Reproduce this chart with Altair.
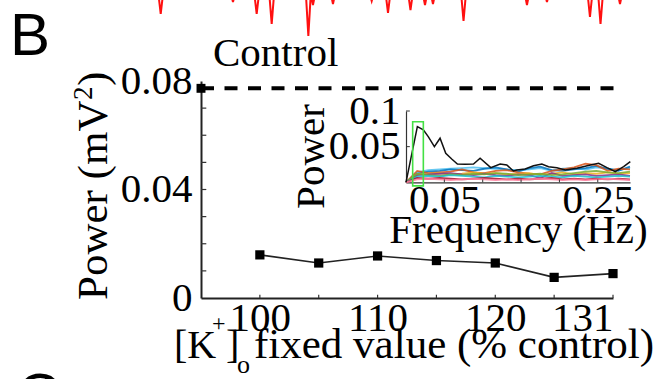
import json
import altair as alt
import pandas as pd

# ---------------- data ----------------
# main panel: power of the slow oscillation vs fixed [K+]o level
K_LEVELS = [100, 105, 110, 115, 120, 125, 131]
POWER = [0.0159, 0.0129, 0.0155, 0.0138, 0.0129, 0.0076, 0.0090]
CONTROL_POWER = 0.0773

# inset: power spectra (control in black, fixed-[K+]o runs in colour)
CTRL_FREQ = [0.0, 0.0148, 0.0226, 0.029, 0.037, 0.0444, 0.0518, 0.0596, 0.067, 0.077,
             0.088, 0.0966, 0.1105, 0.1227, 0.1314, 0.140, 0.1445, 0.1553, 0.1662,
             0.1771, 0.1858, 0.1967, 0.2076, 0.2228, 0.2402, 0.2511, 0.262, 0.2728,
             0.2837, 0.2924]
CTRL_SPEC = [0.0, 0.078, 0.0735, 0.064, 0.050, 0.0618, 0.0407, 0.0327, 0.0257, 0.0253,
             0.0257, 0.0337, 0.0205, 0.0257, 0.0243, 0.0159, 0.0173, 0.0187, 0.0233,
             0.0257, 0.0219, 0.0205, 0.0173, 0.0197, 0.0243, 0.0267, 0.0205, 0.0149,
             0.0219, 0.0289]

RUN_FREQ = [0.0, 0.0146, 0.029, 0.044, 0.058, 0.073, 0.088, 0.102, 0.117, 0.131, 0.146,
            0.161, 0.175, 0.19, 0.204, 0.219, 0.234, 0.248, 0.263, 0.277, 0.292]
RUN_SPECS = {
    "100": [0, 0.014, 0.017, 0.018, 0.019, 0.020, 0.021, 0.020, 0.019, 0.018, 0.017,
            0.018, 0.020, 0.016, 0.019, 0.020, 0.018, 0.021, 0.019, 0.017, 0.020],
    "105": [0, 0.012, 0.015, 0.016, 0.018, 0.017, 0.016, 0.019, 0.021, 0.018, 0.015,
            0.020, 0.022, 0.017, 0.016, 0.018, 0.020, 0.023, 0.019, 0.016, 0.022],
    "110": [0, 0.016, 0.013, 0.014, 0.015, 0.018, 0.014, 0.013, 0.016, 0.017, 0.014,
            0.012, 0.011, 0.016, 0.018, 0.021, 0.026, 0.024, 0.016, 0.019, 0.018],
    "115": [0, 0.011, 0.012, 0.013, 0.011, 0.012, 0.014, 0.012, 0.013, 0.011, 0.012,
            0.013, 0.010, 0.012, 0.014, 0.011, 0.013, 0.012, 0.014, 0.012, 0.013],
    "120": [0, 0.010, 0.011, 0.012, 0.013, 0.011, 0.010, 0.012, 0.010, 0.009, 0.011,
            0.010, 0.006, 0.013, 0.009, 0.010, 0.011, 0.009, 0.010, 0.011, 0.009],
    "125": [0, 0.012, 0.010, 0.009, 0.011, 0.010, 0.012, 0.011, 0.013, 0.012, 0.010,
            0.011, 0.012, 0.010, 0.011, 0.013, 0.015, 0.016, 0.014, 0.013, 0.015],
    "128": [0, 0.008, 0.009, 0.008, 0.010, 0.009, 0.008, 0.007, 0.009, 0.008, 0.007,
            0.008, 0.009, 0.008, 0.007, 0.009, 0.008, 0.007, 0.008, 0.009, 0.008],
    "131": [0, 0.006, 0.005, 0.006, 0.005, 0.004, 0.005, 0.006, 0.005, 0.004, 0.005,
            0.004, 0.005, 0.006, 0.004, 0.005, 0.004, 0.005, 0.004, 0.005, 0.004],
    "133": [0, 0.004, 0.005, 0.004, 0.003, 0.004, 0.005, 0.004, 0.003, 0.004, 0.003,
            0.004, 0.005, 0.004, 0.003, 0.004, 0.003, 0.004, 0.005, 0.004, 0.003],
}
RUN_COLORS = ["#4DBEEE", "#0072BD", "#D95319", "#EDB120", "#7E2F8E",
              "#77AC30", "#17BECF", "#A2142F", "#FF7F9F"]
PEAK_BOX = {"freq": 0.0087, "freq2": 0.0226, "spec": -0.005, "spec2": 0.085}

# trace from the panel above (membrane potential, only the deepest dips show)
SPIKE_T = [4.16, 12.58, 15.34, 17.09, 21.36, 21.90, 24.23, 28.74, 30.64, 33.26,
           34.95, 35.88, 39.44, 46.83, 49.16, 54.17, 55.40, 57.67]
SPIKE_V = [-38.8, -24.4, -38.8, -50.8, -65.2, -28.0, -26.8, -23.2, -37.6, -34.0,
           -28.0, -26.8, -47.2, -28.0, -24.4, -42.4, -50.8, -26.8]
TRACE_BASE = -12.0

SERIF = "Liberation Serif"
FS = 41

# ---------------- layout ----------------
W, H = 412, 217
PAD = {"left": 201, "top": 81, "right": 53, "bottom": 81}

# ---------------- main panel ----------------
idx = list(range(len(K_LEVELS)))
main_df = pd.DataFrame({"i": idx, "power": POWER, "level": K_LEVELS})
ctrl_df = pd.DataFrame({"i": [-1], "power": [CONTROL_POWER]})
labels_js = json.dumps([str(k) for k in K_LEVELS])

x_main = alt.X(
    "i:Q",
    scale=alt.Scale(domain=[-1, len(K_LEVELS) - 1], nice=False, zero=False),
    axis=alt.Axis(values=[0, 2, 4, 6], labelExpr=f"{labels_js}[datum.value]",
                  title=None, labelBaseline="alphabetic", labelPadding=32, orient="bottom"),
)
y_main = alt.Y(
    "power:Q",
    scale=alt.Scale(domain=[0, 0.08], nice=False),
    axis=alt.Axis(values=[0, 0.04, 0.08],
                  labelExpr="datum.value == 0 ? '0' : format(datum.value, '.2f')",
                  title=None, labelPadding=9, orient="left"),
)

dashed = alt.Chart(ctrl_df).mark_rule(color="black", strokeWidth=4, strokeDash=[13, 10.5]).encode(
    x=x_main, x2=alt.datum(6.12), y=y_main)
line = alt.Chart(main_df).mark_line(color="#222222", strokeWidth=1.6).encode(x=x_main, y=y_main)
pts = alt.Chart(main_df).mark_point(shape="square", filled=True, size=85, color="black",
                                    opacity=1).encode(x=x_main, y=y_main)
ctrl_pt = alt.Chart(ctrl_df).mark_point(shape="square", filled=True, size=80, color="black",
                                        opacity=1).encode(x=x_main, y=y_main)
ctrl_lbl = alt.Chart(ctrl_df).mark_text(text="Control", font=SERIF, fontSize=FS, align="left",
                                        baseline="alphabetic", dx=12, dy=-22, color="black").encode(
    x=x_main, y=y_main)

# inward ticks
ytick_df = pd.DataFrame({"power": [0.01, 0.02, 0.03, 0.04, 0.05, 0.06, 0.07]})
yticks = alt.Chart(ytick_df).mark_rule(color="#333333", strokeWidth=1.2).encode(
    y=y_main, x=alt.datum(-1), x2=alt.datum(-0.91))
xtick_df = pd.DataFrame({"i": idx})
xticks = alt.Chart(xtick_df).mark_rule(color="#333333", strokeWidth=1.2).encode(
    x=x_main, y=alt.datum(0), y2=alt.datum(0.0012))


def txt(s, x, y, size=FS, angle=0, align="left", baseline="alphabetic", font=SERIF):
    return alt.Chart(pd.DataFrame({"s": [s]})).mark_text(
        font=font, fontSize=size, angle=angle, align=align, baseline=baseline,
        color="black").encode(x=alt.value(x), y=alt.value(y), text="s:N")


# axis titles built from pieces so super/subscripts sit right
XT = 43
xt = [txt("[K", -27, 277, size=40), txt("+", 11, 250, size=24), txt("]", 25, 277, size=40),
      txt("o", 36, 292, size=26), txt("fixed value (% control)", 53, 277, size=XT)]
yt = [txt("Power (mV", -94, 219, size=XT, angle=270), txt("2", -109, 19, size=27, angle=270),
      txt(")", -94, 5, size=XT, angle=270)]
letters = [txt("B", -191, -26, size=60, font="Liberation Sans"),
           txt("C", -184, 334, size=60, font="Liberation Sans")]

main = alt.layer(dashed, line, pts, ctrl_pt, ctrl_lbl, yticks, xticks, *xt, *yt, *letters)

# ---------------- inset ----------------
IX0, IX1 = 205, 429      # inset x range inside the plot area
IY0, IY1 = 101.3, 30     # inset y range (0 at bottom)
f_scale = alt.Scale(domain=[0, 0.292], range=[IX0, IX1], nice=False, zero=False)
p_scale = alt.Scale(domain=[0, 0.1], range=[IY0, IY1], nice=False)

runs = []
for name, spec in RUN_SPECS.items():
    for f, p in zip(RUN_FREQ, spec):
        runs.append({"freq": f, "spec": p, "run": name})
runs_df = pd.DataFrame(runs)
ctrl_spec_df = pd.DataFrame({"freq": CTRL_FREQ, "spec": CTRL_SPEC})

fx = alt.X("freq:Q", scale=f_scale,
           axis=alt.Axis(orient="bottom", offset=-(H - IY0), values=[0.05, 0.25],
                         labelExpr="format(datum.value, '.2f')", title=None,
                         labelBaseline="alphabetic", labelPadding=30,
                         domainWidth=1.2, domainColor="#333333"))
py = alt.Y("spec:Q", scale=p_scale,
           axis=alt.Axis(orient="left", offset=-IX0, values=[0.05, 0.1],
                         labelExpr="format(datum.value, '.2~f')", title=None,
                         labelPadding=6, domainWidth=1.2, domainColor="#333333"))

run_lines = alt.Chart(runs_df).mark_line(strokeWidth=1.8, opacity=0.85).encode(
    x=fx, y=py,
    color=alt.Color("run:N", scale=alt.Scale(domain=list(RUN_SPECS.keys()), range=RUN_COLORS),
                    legend=None))
ctrl_line = alt.Chart(ctrl_spec_df).mark_line(color="#111111", strokeWidth=1.5).encode(x=fx, y=py)
box = alt.Chart(pd.DataFrame([PEAK_BOX])).mark_rect(fillOpacity=0, stroke="#44E044",
                                                    strokeWidth=1.6).encode(
    x=fx, x2="freq2:Q", y=py, y2="spec2:Q")
fticks = alt.Chart(pd.DataFrame({"freq": [0.05, 0.1, 0.15, 0.2, 0.25]})).mark_rule(
    color="#333333", strokeWidth=1).encode(x=fx, y=alt.datum(0), y2=alt.datum(0.004))
pticks = alt.Chart(pd.DataFrame({"spec": [0.05, 0.1]})).mark_rule(
    color="#333333", strokeWidth=1).encode(y=py, x=alt.datum(0), x2=alt.datum(0.005))
inset_titles = [txt("Power", 123, 75.5, angle=270, align="center"),
                txt("Frequency (Hz)", 317.5, 162, align="center")]

inset = alt.layer(run_lines, ctrl_line, box, fticks, pticks, *inset_titles)

# ---------------- trace strip ----------------
rows = []
seq = 0
for t, v in zip(SPIKE_T, SPIKE_V):
    for tt, vv in ((t - 0.3, TRACE_BASE), (t, v), (t + 0.3, TRACE_BASE)):
        rows.append({"t": tt, "v": vv, "k": seq})
        seq += 1
trace_df = pd.DataFrame(rows)
trace = alt.Chart(trace_df).mark_line(color="#FF1010", strokeWidth=2).encode(
    x=alt.X("t:Q", scale=alt.Scale(domain=[0, 60], range=[-76, 439], nice=False, zero=False),
            axis=None),
    y=alt.Y("v:Q", scale=alt.Scale(domain=[-70, -10], range=[-41, -91], nice=False, zero=False),
            axis=None),
    order="k:Q")

chart = alt.layer(main, inset, trace).resolve_scale(
    x="independent", y="independent"
).properties(
    width=W, height=H, padding=PAD, autosize=alt.AutoSizeParams(type="none"),
    background="white",
).configure_view(stroke=None).configure_axis(
    grid=False, ticks=False, labelFont=SERIF, labelFontSize=FS, labelColor="black",
    domainColor="#222222", domainWidth=2,
)

chart.save("out.html", embed_options={"renderer": "svg", "actions": False})
